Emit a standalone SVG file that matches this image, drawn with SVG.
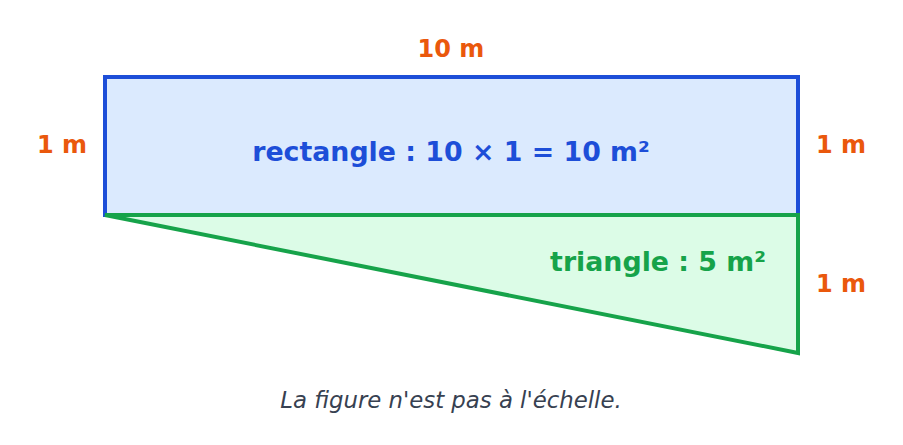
<svg xmlns="http://www.w3.org/2000/svg" width="903" height="445" viewBox="0 0 903 445">
<style>
.dim{font-family:"DejaVu Sans",sans-serif;font-weight:bold;font-size:24px;fill:#ea580c}
.lbl{font-family:"DejaVu Sans",sans-serif;font-weight:bold;font-size:26.8px}
.cap{font-family:"DejaVu Sans",sans-serif;font-style:italic;font-size:22.8px;fill:#374151}
</style>
<rect width="903" height="445" fill="#ffffff"/>
<g id="rectangle">
<rect x="105" y="77" width="693" height="138" fill="#dbeafe" stroke="#1d4ed8" stroke-width="4"/>
<text class="lbl" x="451" y="161" text-anchor="middle" fill="#1d4ed8">rectangle : 10 × 1 = 10 m²</text>
</g>
<g id="triangle">
<polygon points="105,215 798,215 798,353" fill="#dcfce7" stroke="#16a34a" stroke-width="4" stroke-linejoin="miter"/>
<text class="lbl" x="766" y="271" text-anchor="end" fill="#16a34a">triangle : 5 m²</text>
</g>
<g id="dimensions">
<text class="dim" x="451" y="57" text-anchor="middle">10 m</text>
<text class="dim" x="87" y="153" text-anchor="end">1 m</text>
<text class="dim" x="816" y="153">1 m</text>
<text class="dim" x="816" y="292">1 m</text>
</g>
<text class="cap" x="451" y="408" text-anchor="middle">La figure n'est pas à l'échelle.</text>
</svg>
